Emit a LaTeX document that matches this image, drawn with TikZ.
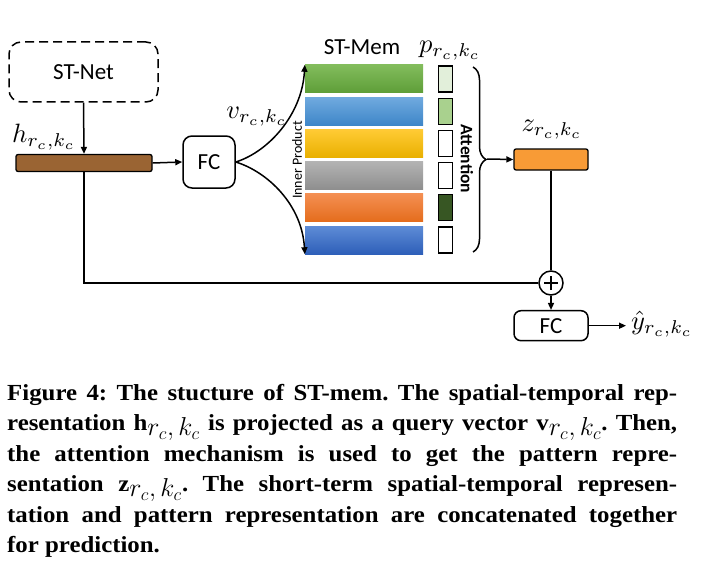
\documentclass[tikz,border=0pt]{standalone}
\usepackage{fontspec}
\setmainfont[FakeStretch=1.08]{Liberation Serif}
\newfontfamily\diagfont{Carlito}
\usetikzlibrary{arrows.meta,decorations.pathreplacing}
\definecolor{brownbar}{HTML}{9A6433}
\definecolor{zorange}{HTML}{F89B36}
\definecolor{pg1}{HTML}{E2EFDA}
\definecolor{pg2}{HTML}{A9D18E}
\definecolor{pg5}{HTML}{375623}
\definecolor{gT}{HTML}{82BC5C}\definecolor{gB}{HTML}{5E9E38}
\definecolor{bT}{HTML}{70AADF}\definecolor{bB}{HTML}{3E86C8}
\definecolor{yT}{HTML}{FFCB35}\definecolor{yB}{HTML}{E9B000}
\definecolor{sT}{HTML}{B3B3B3}\definecolor{sB}{HTML}{8E8E8E}
\definecolor{oT}{HTML}{F48F52}\definecolor{oB}{HTML}{E46C1C}
\definecolor{dT}{HTML}{5E8CD6}\definecolor{dB}{HTML}{2E5FB9}
\newcommand{\mlab}[1]{\scalebox{2.65}{$#1$}}
\newcommand{\capsub}{\raisebox{-5pt}{\scalebox{1.5}{$\scriptstyle r_c,\,k_c$}}}
\begin{document}
\begin{tikzpicture}[x=1pt,y=-1pt,
  conn/.style={line width=1.5pt},
  arr/.style={line width=1.5pt,-{Triangle[length=7pt,width=6pt]}},
  dlabel/.style={font=\diagfont\fontsize{23}{27}\selectfont},
  mlabel/.style={inner sep=0pt},
  rbox/.style={draw,line width=1.5pt,fill=white,inner sep=0pt},
  membar/.style={minimum width=118pt,minimum height=28pt,inner sep=0pt},
  pbox/.style={draw,line width=1.3pt,minimum width=14pt,minimum height=26pt,inner sep=0pt},
  capline/.style={anchor=base west,inner sep=0pt,font=\frenchspacing\bfseries\fontsize{23}{27}\selectfont}]
\useasboundingbox (0,0) rectangle (706,575);

% ST-Net
\node[rbox,dashed,dash pattern=on 9pt off 5pt,rounded corners=12pt,minimum width=149pt,minimum height=60pt,dlabel] (stnet) at (83.5,72) {ST-Net};
% h bar
\node[draw,line width=1.3pt,fill=brownbar,rounded corners=2pt,minimum width=136pt,minimum height=17pt,inner sep=0pt] (hbar) at (84,163) {};
\node[mlabel] (hlab) at (44,137) {\mlab{h_{r_c,k_c}}};
% FC1
\node[rbox,rounded corners=9pt,minimum width=52pt,minimum height=52pt,dlabel] (fc1) at (209,162) {FC};
\node[mlabel] (vlab) at (257,117) {\mlab{v_{r_c,k_c}}};

% memory bars
\node[membar,top color=gT,bottom color=gB] (m1) at (364,79) {};
\node[membar,top color=bT,bottom color=bB] (m2) at (364,111.2) {};
\node[membar,top color=yT,bottom color=yB] (m3) at (364,143.4) {};
\node[membar,top color=sT,bottom color=sB] (m4) at (364,175.6) {};
\node[membar,top color=oT,bottom color=oB] (m5) at (364,207.8) {};
\node[membar,top color=dT,bottom color=dB] (m6) at (364,240) {};
\node[dlabel] (stmem) at (362,47) {ST-Mem};

% attention weights
\node[pbox,fill=pg1] (p1) at (445.5,79) {};
\node[pbox,fill=pg2] (p2) at (445.5,111.2) {};
\node[pbox,fill=white] (p3) at (445.5,143.4) {};
\node[pbox,fill=white] (p4) at (445.5,175.6) {};
\node[pbox,fill=pg5] (p5) at (445.5,207.8) {};
\node[pbox,fill=white] (p6) at (445.5,240) {};
\node[mlabel] (plab) at (450,51) {\mlab{p_{r_c,k_c}}};

\node[rotate=90,font=\diagfont\fontsize{14}{16}\selectfont,inner sep=0pt] (inner) at (297,160) {Inner Product};
\node[rotate=-90,font=\diagfont\bfseries\fontsize{17.5}{20}\selectfont,inner sep=0pt] (att) at (467,159) {Attention};

% brace
\coordinate (brtop) at (473,67);
\coordinate (brbot) at (473,252);
\coordinate (brtip) at (487,159);
\draw[conn,decorate,decoration={brace,amplitude=13pt}] (brtop) -- (brbot);

% z
\node[draw,line width=1.3pt,fill=zorange,rounded corners=2pt,minimum width=74pt,minimum height=21pt,inner sep=0pt] (zbox) at (551,159.5) {};
\node[mlabel] (zlab) at (552,130) {\mlab{z_{r_c,k_c}}};

% plus
\node[draw,circle,line width=1.5pt,minimum size=24pt,inner sep=0pt,fill=white] (plus) at (551,283) {};
\draw[line width=1.3pt] ([xshift=-7pt]plus.center) -- ([xshift=7pt]plus.center)
  ([yshift=-7pt]plus.center) -- ([yshift=7pt]plus.center);

% FC2
\node[rbox,rounded corners=7pt,minimum width=74pt,minimum height=30pt,dlabel] (fc2) at (551,325.7) {FC};
\node[mlabel,anchor=west] (ylab) at (631,324) {\mlab{\hat{y}_{r_c,k_c}}};

% connectors
\draw[arr] (stnet.south) -- (hbar.north);
\draw[arr] (hbar.east) -- (fc1.west);
\draw[arr] (fc1.east) .. controls (268,152) and (302,115) .. (m1.north west);
\draw[arr] (fc1.east) .. controls (268,172) and (302,205) .. (m6.south west);
\draw[arr] (brtip) -- (zbox.west);
\draw[conn] (zbox.south) -- (plus.north);
\draw[conn] (hbar.south) |- (plus.west);
\draw[arr] (plus.south) -- (fc2.north);
\draw[arr] (fc2.east) -- ([xshift=-5pt]ylab.west |- fc2.east);

% caption
\node[capline] (c1) at (7,400) {\makebox[670pt][s]{Figure 4: The stucture of ST-mem. The spatial-temporal rep-}};
\node[capline] (c2) at (7,430.5) {\makebox[670pt][s]{resentation h\capsub{} is projected as a query vector v\capsub. Then,}};
\node[capline] (c3) at (7,461) {\makebox[670pt][s]{the attention mechanism is used to get the pattern repre-}};
\node[capline] (c4) at (7,491.5) {\makebox[670pt][s]{sentation z\capsub. The short-term spatial-temporal represen-}};
\node[capline] (c5) at (7,522) {\makebox[670pt][s]{tation and pattern representation are concatenated together}};
\node[capline] (c6) at (7,552.5) {for prediction.};
\end{tikzpicture}
\end{document}
